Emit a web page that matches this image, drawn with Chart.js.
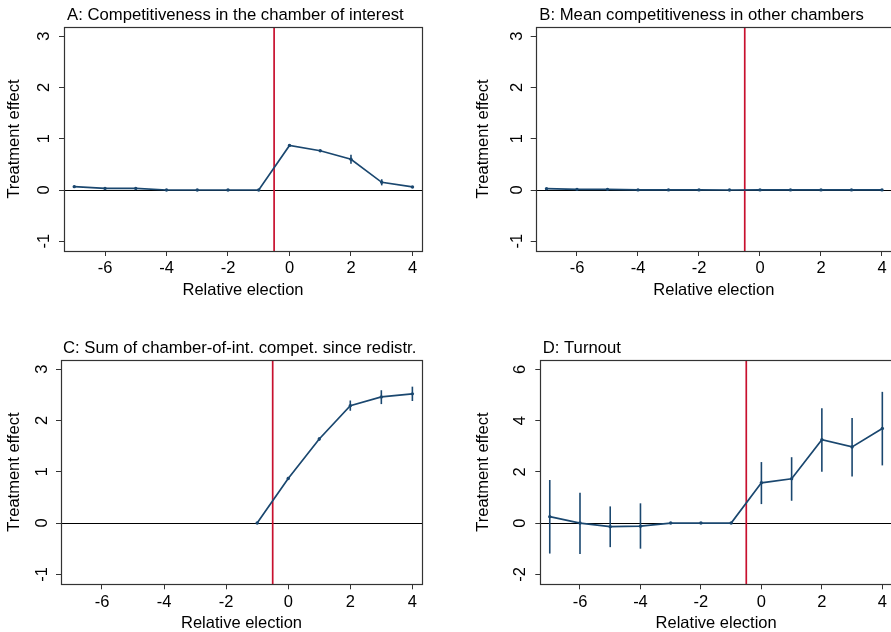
<!DOCTYPE html>
<html><head><meta charset="utf-8">
<script src="https://cdn.jsdelivr.net/npm/chart.js@4.4.1/dist/chart.umd.min.js"></script>
<style>
html,body{margin:0;padding:0;background:#fff;overflow:hidden;width:891px;height:632px;}
#wrap{position:relative;width:891px;height:632px;overflow:hidden;background:#fff;}
canvas{position:absolute;}
</style></head><body><div id="wrap">
<canvas id="cA"></canvas><canvas id="cB"></canvas><canvas id="cC"></canvas><canvas id="cD"></canvas>
</div>
<script>
// ---------- data ----------
const relElection = [-7, -6, -5, -4, -3, -2, -1, 0, 1, 2, 3, 4];
const xTickValues = [-6, -4, -2, 0, 2, 4];
const yTickValuesABC = [-1, 0, 1, 2, 3];
const yTickValuesD = [-2, 0, 2, 4, 6];
const xAxisTitle = "Relative election";
const yAxisTitle = "Treatment effect";
const eventLineX = -0.5;
const zeroLineY = 0;

const titleA = "A: Competitiveness in the chamber of interest";
const estA = [0.065, 0.03, 0.03, 0, 0, 0, 0, 0.87, 0.766, 0.60, 0.15, 0.06];
const loA  = [0.045, 0.018, 0.018, 0, 0, 0, 0, 0.85, 0.748, 0.51, 0.09, 0.045];
const hiA  = [0.085, 0.042, 0.042, 0, 0, 0, 0, 0.89, 0.784, 0.69, 0.21, 0.075];

const titleB = "B: Mean competitiveness in other chambers";
const estB = [0.026, 0.013, 0.013, 0.002, 0.002, 0.002, 0, 0.002, 0.002, 0.002, 0.002, 0.002];
const loB  = [0.018, 0.007, 0.007, 0, 0, 0, 0, 0, 0, 0, 0, 0];
const hiB  = [0.034, 0.019, 0.019, 0.004, 0.004, 0.004, 0, 0.004, 0.004, 0.004, 0.004, 0.004];

const titleC = "C: Sum of chamber-of-int. compet. since redistr.";
const estC = [null, null, null, null, null, null, 0, 0.87, 1.64, 2.29, 2.46, 2.52];
const loC  = [null, null, null, null, null, null, 0, 0.84, 1.61, 2.19, 2.32, 2.38];
const hiC  = [null, null, null, null, null, null, 0, 0.90, 1.67, 2.39, 2.59, 2.66];

const titleD = "D: Turnout";
const estD = [0.25, 0, -0.14, -0.12, 0, 0, 0, 1.57, 1.73, 3.25, 2.97, 3.69];
const loD  = [-1.19, -1.21, -0.94, -1.0, 0, 0, 0, 0.74, 0.87, 2.0, 1.82, 2.25];
const hiD  = [1.68, 1.18, 0.65, 0.77, 0, 0, 0, 2.38, 2.57, 4.48, 4.10, 5.12];

// ---------- style ----------
const NAVY = '#1a476f';
const RED = '#c8102e';
const AXC = '#333333';
const FONT = '"Liberation Sans", Helvetica, Arial, sans-serif';
const FS = 16.5;

const deco = {
  id: 'deco',
  beforeDatasetsDraw(chart, args, o) {
    const {ctx, chartArea: a, scales: {x, y}} = chart;
    ctx.save();
    ctx.beginPath(); ctx.rect(a.left, a.top, a.right - a.left, a.bottom - a.top); ctx.clip();
    const yz = Math.round(y.getPixelForValue(zeroLineY)) + 0.5;
    ctx.strokeStyle = '#000'; ctx.lineWidth = 1;
    ctx.beginPath(); ctx.moveTo(a.left, yz); ctx.lineTo(a.right, yz); ctx.stroke();
    const xr = x.getPixelForValue(eventLineX);
    ctx.strokeStyle = RED; ctx.lineWidth = 1.7;
    ctx.beginPath(); ctx.moveTo(xr, a.top); ctx.lineTo(xr, a.bottom); ctx.stroke();
    ctx.restore();
  },
  afterDatasetsDraw(chart, args, o) {
    const {ctx, scales: {x, y}} = chart;
    ctx.save();
    ctx.strokeStyle = NAVY; ctx.lineWidth = 1.6;
    o.xs.forEach((xv, i) => {
      if (o.lo[i] == null || o.hi[i] == null) return;
      const px = x.getPixelForValue(xv);
      ctx.beginPath();
      ctx.moveTo(px, y.getPixelForValue(o.lo[i]));
      ctx.lineTo(px, y.getPixelForValue(o.hi[i]));
      ctx.stroke();
    });
    ctx.restore();
  },
  afterDraw(chart, args, o) {
    const {ctx, chartArea: a} = chart;
    ctx.save();
    ctx.strokeStyle = AXC; ctx.lineWidth = 1.2;
    ctx.strokeRect(Math.round(a.left) + 0.5, Math.round(a.top) + 0.5,
                   Math.round(a.right - a.left), Math.round(a.bottom - a.top));
    ctx.fillStyle = '#000';
    ctx.font = '16.7px ' + FONT;
    ctx.textAlign = 'left'; ctx.textBaseline = 'alphabetic';
    ctx.fillText(o.title, o.titleX, o.titleY);
    ctx.restore();
  }
};

function buildPanel(id, p) {
  const cv = document.getElementById(id);
  cv.width = p.w; cv.height = p.h;
  cv.style.left = p.x + 'px'; cv.style.top = p.y + 'px';
  const yW = p.plot.l - p.x;
  const padTop = p.plot.t - p.y;
  const padRight = p.x + p.w - p.plot.r;
  const xH = p.y + p.h - p.plot.b;
  const lh = FS * 1.2;
  const xTitlePad = (p.y + p.h) - (p.plot.b + 39.3) - lh / 2;
  const yTitlePad = p.yTitleCX - p.x - lh / 2;
  const yTickPad = p.plot.l - 5 - p.yLabelCX - 7.35;
  new Chart(cv, {
    type: 'line',
    data: {
      datasets: [{
        data: relElection.map((xv, i) => ({x: xv, y: p.est[i]})),
        borderColor: NAVY, borderWidth: 1.7,
        pointRadius: 1.7, pointBackgroundColor: NAVY, pointBorderWidth: 0,
        pointHoverRadius: 1.7, tension: 0, spanGaps: false
      }]
    },
    options: {
      responsive: false, animation: false, devicePixelRatio: 1,
      events: [],
      layout: {padding: {top: padTop, right: padRight, left: 0, bottom: 0}},
      plugins: {
        legend: {display: false}, tooltip: {enabled: false}, title: {display: false},
        deco: {xs: relElection, lo: p.lo, hi: p.hi, title: p.title,
               titleX: p.titleX - p.x, titleY: p.titleY - p.y}
      },
      scales: {
        x: {
          type: 'linear', min: p.xmin, max: p.xmax, bounds: 'data',
          afterBuildTicks: s => { s.ticks = xTickValues.map(v => ({value: v})); },
          afterFit: s => { s.height = xH; },
          grid: {display: true, drawOnChartArea: false, drawTicks: true, tickLength: 5, tickColor: AXC, tickWidth: 1},
          border: {display: false},
          ticks: {padding: 3, maxRotation: 0, minRotation: 0, autoSkip: false, color: '#000',
                  font: {family: FONT, size: FS}, callback: v => String(v)},
          title: {display: true, text: xAxisTitle, color: '#000', font: {family: FONT, size: FS},
                  padding: {top: 0, bottom: xTitlePad}}
        },
        y: {
          type: 'linear', min: p.ymin, max: p.ymax, bounds: 'data',
          afterBuildTicks: s => { s.ticks = p.yTicks.map(v => ({value: v})); },
          afterFit: s => { s.width = yW; },
          grid: {display: true, drawOnChartArea: false, drawTicks: true, tickLength: 5, tickColor: AXC, tickWidth: 1},
          border: {display: false},
          ticks: {padding: yTickPad, minRotation: 90, maxRotation: 90, crossAlign: 'center', autoSkip: false,
                  color: '#000', font: {family: FONT, size: FS}, callback: v => String(v)},
          title: {display: true, text: yAxisTitle, color: '#000', font: {family: FONT, size: FS},
                  padding: {top: yTitlePad, bottom: 0}}
        }
      }
    },
    plugins: [deco]
  });
}

buildPanel('cA', {x: 0, y: 0, w: 445, h: 310, plot: {l: 64, t: 27, r: 422, b: 251},
  xmin: -7.334, xmax: 4.31, ymin: -1.19, ymax: 3.18, yTicks: yTickValuesABC,
  est: estA, lo: loA, hi: hiA, title: titleA, titleX: 67, titleY: 20, yTitleCX: 14.5, yLabelCX: 44});
buildPanel('cB', {x: 445, y: 0, w: 460, h: 310, plot: {l: 535.7, t: 27, r: 892, b: 251},
  xmin: -7.354, xmax: 4.328, ymin: -1.19, ymax: 3.18, yTicks: yTickValuesABC,
  est: estB, lo: loB, hi: hiB, title: titleB, titleX: 539.3, titleY: 20, yTitleCX: 483.5, yLabelCX: 517.5});
buildPanel('cC', {x: 0, y: 310, w: 445, h: 335, plot: {l: 61, t: 360, r: 422, b: 584.3},
  xmin: -7.32, xmax: 4.31, ymin: -1.195, ymax: 3.18, yTicks: yTickValuesABC,
  est: estC, lo: loC, hi: hiC, title: titleC, titleX: 63, titleY: 353.3, yTitleCX: 14.5, yLabelCX: 42.7});
buildPanel('cD', {x: 445, y: 310, w: 460, h: 335, plot: {l: 540.3, t: 360, r: 892, b: 584.3},
  xmin: -7.313, xmax: 4.32, ymin: -2.39, ymax: 6.363, yTicks: yTickValuesD,
  est: estD, lo: loD, hi: hiD, title: titleD, titleX: 542.7, titleY: 352.7, yTitleCX: 483.7, yLabelCX: 520});
</script>
</body></html>
